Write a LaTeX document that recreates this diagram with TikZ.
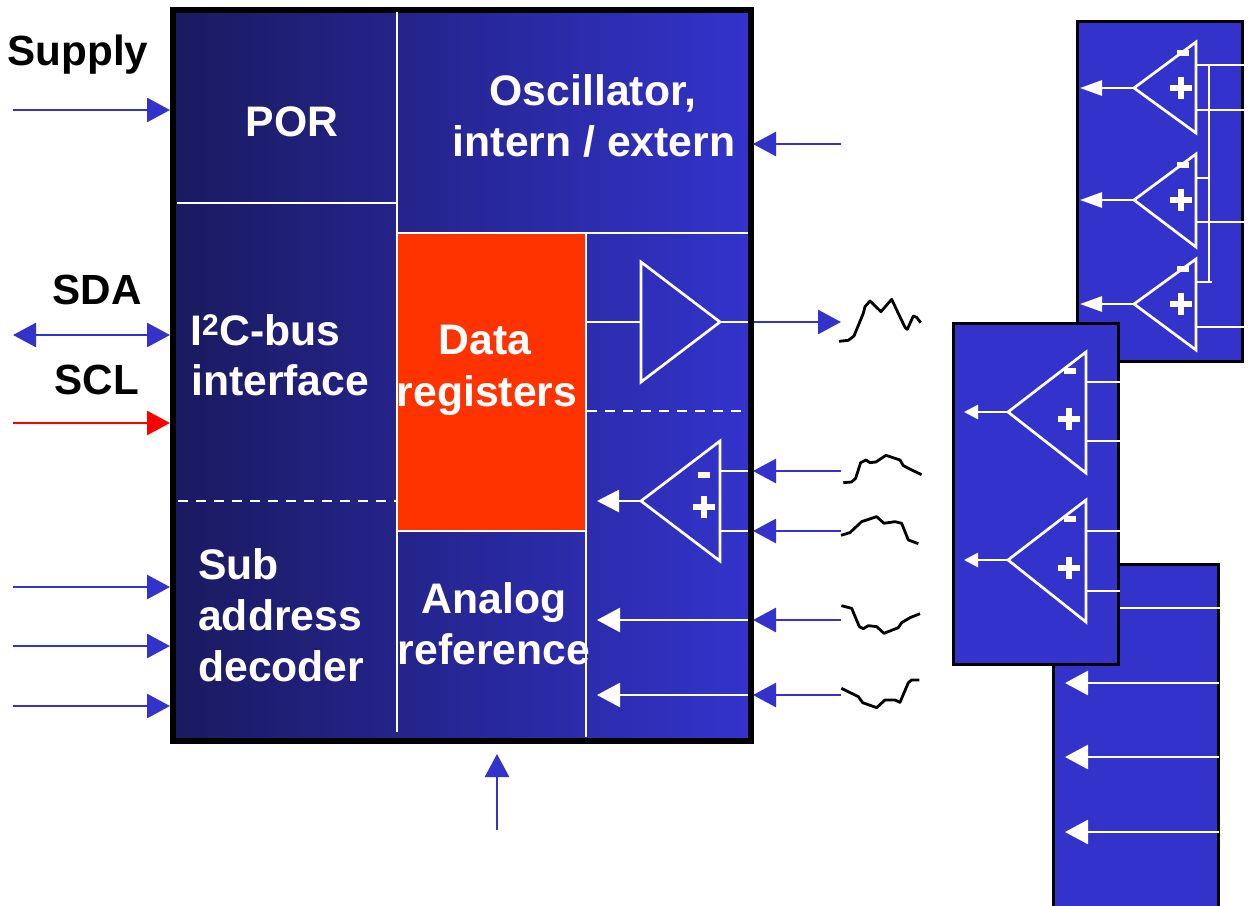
\documentclass[tikz,border=0pt]{standalone}
\usepackage{fontspec}
\setmainfont{Liberation Sans}
\usetikzlibrary{arrows.meta}
\definecolor{chipblue}{HTML}{3333CC}
\definecolor{chipdark}{HTML}{1A1A60}
\definecolor{hot}{HTML}{FF3300}
\newcommand{\ampshape}[6]{% name, apex x, apex y, base x, half height top, half height bottom
  \coordinate (#1-a) at (#2,#3);
  \coordinate (#1-t) at (#4,#3-#5);
  \coordinate (#1-b) at (#4,#3+#6);
  \draw[wline,line join=miter] (#1-a) -- (#1-t) -- (#1-b) -- cycle;
}
\tikzset{
  x=1pt,y=-1pt,
  lbl/.style={font=\fontsize{42.7}{50}\selectfont\bfseries,text=white,inner sep=0pt,anchor=base},
  lblL/.style={lbl,anchor=base west},
  blk/.style={lbl,text=black,font=\fontsize{42.2}{50}\selectfont\bfseries},
  wline/.style={draw=white,line width=2.7pt},
  wdash/.style={wline,dash pattern=on 10pt off 8pt},
  barrow/.style={draw=chipblue,line width=2.7pt,-{Triangle[length=23pt,width=24pt]}},
  rarrow/.style={draw=red,line width=2.6pt,-{Triangle[length=23pt,width=24pt]}},
  darrow/.style={draw=chipblue,line width=2.7pt,{Triangle[length=23pt,width=24pt]}-{Triangle[length=23pt,width=24pt]}},
  warrow/.style={draw=white,line width=2.7pt,-{Triangle[length=23pt,width=24pt]}},
  squig/.style={draw=black,line width=2.8pt,line join=round},
  chip/.style={draw=black,line width=6pt,left color=chipdark,right color=chipblue,minimum width=578pt,minimum height=731pt,inner sep=0pt},
  card/.style={draw=black,line width=3pt,fill=chipblue,inner sep=0pt},
}
\begin{document}
\begin{tikzpicture}
\useasboundingbox (0,0) rectangle (1249,905);
\fill[white] (0,0) rectangle (1249,905);

% ---- top right card
\node[card,minimum width=165.5pt,minimum height=340pt] (cardT) at (1159.8,191.5) {};
\ampshape{t1}{1134}{88}{1196}{46}{45}
\ampshape{t2}{1134}{200}{1196}{46}{47}
\ampshape{t3}{1134}{304}{1196}{45}{46}
\foreach \n/\yo/\ya/\yb in {1/88/65/110,2/200/178/222,3/304/282/327}{
  \coordinate (o\n) at (1080,\yo);
  \draw[warrow,-{Triangle[length=22pt,width=15pt]}] (t\n-a) -- (o\n);
  \fill[white] (1177,\yo-38) rectangle (1188.5,\yo-32);
  \fill[white] (1178,\yo-11) rectangle (1184,\yo+11);
  \fill[white] (1170,\yo-3) rectangle (1192,\yo+3);
}
\coordinate (tb) at (1209,65);
\coordinate (tc) at (1209,282);
\draw[wline] (1196,65) -- (cardT.east |- 0,65);
\draw[wline] (1196,110) -- (cardT.east |- 0,110);
\draw[wline] (1196,178) -- (1209,178);
\draw[wline] (1196,222) -- (cardT.east |- 0,222);
\draw[wline] (1196,282) -- (1212,282);
\draw[wline] (1196,327) -- (cardT.east |- 0,327);
\draw[wline] (tb) -- (tc);

% ---- bottom right card
\node[card,minimum width=165.5pt,minimum height=360pt] (cardB) at (1136.2,744.5) {};
\coordinate (bi0) at (1118,608);
\draw[wline] (bi0) -- (cardB.east |- bi0);
\foreach \n/\yy in {1/683,2/757,3/832}{
  \coordinate (be\n) at (1219,\yy);
  \coordinate (bo\n) at (1065,\yy);
  \draw[warrow] (be\n) -- (bo\n);
}

% ---- middle right card
\node[card,minimum width=165pt,minimum height=341pt] (cardM) at (1036,494) {};
\ampshape{m1}{1008}{412}{1086}{60}{61}
\ampshape{m2}{1008}{560}{1086}{60}{62}
\foreach \n/\yo/\ya/\yb/\ym/\yp in {1/412/382/441/371/419,2/560/531/591/519/568}{
  \coordinate (mo\n) at (964,\yo);
  \draw[warrow,-{Triangle[length=14pt,width=14pt]}] (m\n-a) -- (mo\n);
  \draw[wline] (1086,\ya) -- (cardM.east |- 0,\ya);
  \draw[wline] (1086,\yb) -- (cardM.east |- 0,\yb);
  \fill[white] (1064,\ym-3) rectangle (1076,\ym+3);
  \fill[white] (1066,\yp-11) rectangle (1072,\yp+11);
  \fill[white] (1058,\yp-3) rectangle (1080,\yp+3);
}

% ---- main chip
\node[chip] (main) at (461.5,375.5) {};
\fill[hot] (398,234) rectangle (586,531);
\draw[wline] (397,12) -- (397,732);
\draw[wline] (177,203) -- (397,203);
\draw[wdash] (178,501) -- (397,501);
\draw[wline] (397,233) -- (748,233);
\draw[wline] (397,531) -- (586,531);
\draw[wline] (586,233) -- (586,737);
\draw[wdash] (587,411) -- (748,411);

% buffer
\coordinate (bufL) at (641,322);
\coordinate (bufR) at (720,322);
\coordinate (pinO) at (748,322);
\coordinate (sigO) at (841,322);
\draw[wline,line join=miter] (641,262) -- (720,322) -- (641,382) -- cycle;
\draw[wline] (586,322) -- (bufL);
\draw[wline] (bufR) -- (pinO);
\draw[barrow] (754,322) -- (sigO);

% op amp
\ampshape{a}{641}{501}{720}{60}{60}
\coordinate (aout) at (597,501);
\draw[warrow,-{Triangle[length=22pt,width=22pt]}] (a-a) -- (aout);
\draw[wline] (720,471) -- (748,471);
\draw[wline] (720,531) -- (748,531);
\fill[white] (698,472) rectangle (710,478);
\fill[white] (701,496) rectangle (707,518);
\fill[white] (693,504) rectangle (715,510);

% white inner arrows
\coordinate (w1s) at (748,620); \coordinate (w1e) at (597,620);
\coordinate (w2s) at (748,695); \coordinate (w2e) at (597,695);
\draw[warrow] (w1s) -- (w1e);
\draw[warrow] (w2s) -- (w2e);

% right side inputs
\foreach \n/\yy in {1/144,2/471,3/531,4/620,5/695}{
  \coordinate (rs\n) at (841,\yy);
  \coordinate (re\n) at (753,\yy);
  \draw[barrow] (rs\n) -- (re\n);
}

% left side
\foreach \n/\yy in {1/110,2/587,3/646,4/706}{
  \coordinate (ls\n) at (13,\yy);
  \coordinate (le\n) at (170,\yy);
  \draw[barrow] (ls\n) -- (le\n);
}
\coordinate (sdaS) at (13,335); \coordinate (sdaE) at (170,335);
\draw[darrow] (sdaS) -- (sdaE);
\coordinate (sclS) at (13,423); \coordinate (sclE) at (170,423);
\draw[rarrow] (sclS) -- (sclE);
% bottom
\coordinate (refS) at (497,830); \coordinate (refE) at (497,754);
\draw[barrow] (refS) -- (refE);

% signals
\begin{scope}[shift={(580,240)},x=0.3333pt,y=-0.3333pt]
\draw[squig] (777,304)--(805,301)--(822,288)--(850,220)--(855,200)--(870,183)--(903,215)--(935,178)--(975,262)--(982,268)--(1000,228)--(1010,232)--(1022,248);
\draw[squig] (790,728)--(815,726)--(827,715)--(842,668)--(858,660)--(870,668)--(888,666)--(918,646)--(960,660)--(970,677)--(995,690)--(1025,704);
\draw[squig] (783,886)--(810,878)--(845,845)--(890,830)--(912,850)--(945,845)--(965,850)--(985,900)--(1015,911);
\end{scope}
\begin{scope}[shift={(740,580)},x=0.3333pt,y=-0.3333pt]
\draw[squig] (304,77)--(335,85)--(358,140)--(370,146)--(385,137)--(410,140)--(432,160)--(475,143)--(485,128)--(510,113)--(540,101);
\draw[squig] (304,325)--(355,350)--(368,368)--(410,383)--(435,360)--(465,360)--(480,367)--(505,308)--(515,300)--(538,300);
\end{scope}

% labels
\node[blk] (tSupply) at (78,65.5) {Supply};
\node[blk] (tSDA) at (97,304) {SDA};
\node[blk] (tSCL) at (97,394) {SCL};
\node[lbl] (tPOR) at (292,136) {POR};
\node[lbl] (tOsc) at (593,105) {Oscillator,};
\node[lbl] (tInt) at (594,156) {intern / extern};
\node[lblL] (tI2C) at (190,345) {I\textsuperscript{2}C-bus};
\node[lblL] (tIf) at (191,395) {interface};
\node[lbl] (tData) at (485,354.5) {Data};
\node[lbl] (tReg) at (487,406) {registers};
\node[lblL] (tSub) at (198,579.5) {Sub};
\node[lblL] (tAddr) at (198,630.5) {address};
\node[lblL] (tDec) at (198,681.5) {decoder};
\node[lbl] (tAna) at (494,613.5) {Analog};
\node[lbl] (tRef) at (494,664.5) {reference};
\end{tikzpicture}
\end{document}
